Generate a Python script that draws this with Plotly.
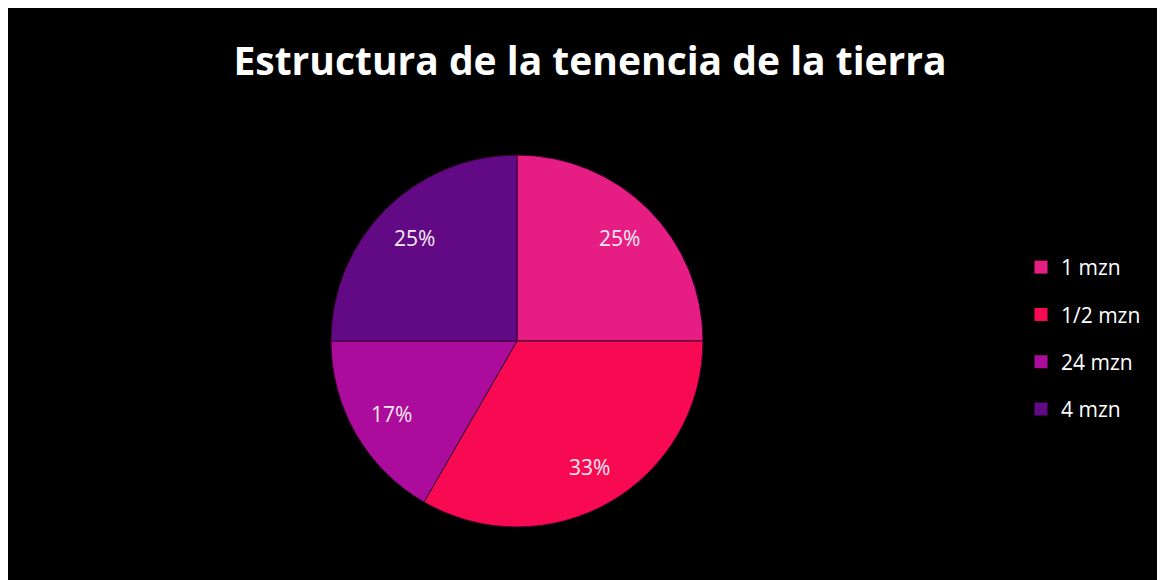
import math
import plotly.graph_objects as go

labels = ["1 mzn", "1/2 mzn", "24 mzn", "4 mzn"]
values = [3, 4, 2, 3]
colors = ["#E61E84", "#F80A52", "#AC0C9C", "#620A86"]

W, H = 1165, 580
cx, cy, r = 509, 333, 186   # pie centre / radius in figure pixels
FONT = "Open Sans"

fig = go.Figure()
fig.add_trace(go.Pie(
    labels=labels, values=values, sort=False, direction="clockwise", rotation=0,
    marker=dict(colors=colors, line=dict(color="#3a0030", width=1)),
    textinfo="none", showlegend=False,
    domain=dict(x=[(cx - r) / W, (cx + r) / W], y=[(H - cy - r) / H, (H - cy + r) / H]),
    hoverinfo="label+percent",
))

# legend entries (square swatches) with wide spacing
for lab, col in zip(labels, colors):
    fig.add_trace(go.Scatter(x=[None], y=[None], mode="markers", name=lab,
                             legendgroup=lab,
                             marker=dict(symbol="square", size=13, color=col)))

# percentage labels placed along each slice's mid-angle
total = sum(values)
annotations = []
cum = 0
for v in values:
    mid = (cum + v / 2) / total * 2 * math.pi
    cum += v
    px = cx + 0.78 * r * math.sin(mid)
    py = cy - 0.78 * r * math.cos(mid)
    annotations.append(dict(x=px / W, y=1 - py / H, xref="paper", yref="paper",
                            xanchor="center", yanchor="middle",
                            text=f"{round(100 * v / total)}%", showarrow=False,
                            font=dict(color="#F6EAF2", size=21, family=FONT)))

fig.update_layout(
    width=W, height=H,
    margin=dict(l=0, r=0, t=0, b=0),
    paper_bgcolor="black", plot_bgcolor="black",
    xaxis=dict(visible=False), yaxis=dict(visible=False),
    title=dict(text="<b>Estructura de la tenencia de la tierra</b>",
               x=582 / W, xanchor="center", y=1 - 53 / H, yanchor="middle",
               font=dict(color="white", size=39, family=FONT)),
    legend=dict(x=1013 / W, xanchor="left", y=1 - 239 / H, yanchor="top",
                font=dict(color="white", size=21, family=FONT),
                bgcolor="rgba(0,0,0,0)", tracegroupgap=17),
    annotations=annotations,
)

fig.write_html("out.html")
